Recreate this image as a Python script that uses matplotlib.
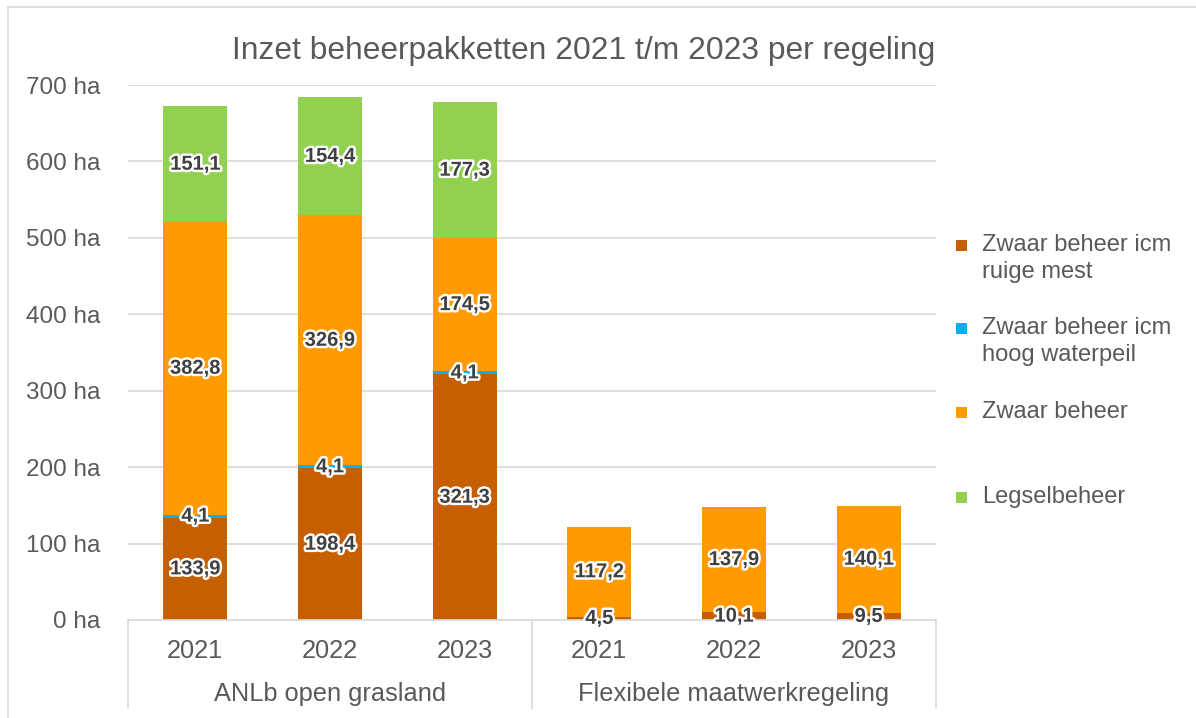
import matplotlib
matplotlib.use("Agg")
import matplotlib.pyplot as plt
import matplotlib.patheffects as pe
from matplotlib.patches import Rectangle
from matplotlib.lines import Line2D
import numpy as np

plt.rcParams['font.family'] = ['Liberation Sans', 'DejaVu Sans']

title = "Inzet beheerpakketten 2021 t/m 2023 per regeling"
groups = ["ANLb open grasland", "Flexibele maatwerkregeling"]
years = ["2021", "2022", "2023", "2021", "2022", "2023"]
series_names = ["Zwaar beheer icm\nruige mest", "Zwaar beheer icm\nhoog waterpeil",
                "Zwaar beheer", "Legselbeheer"]
ruige_mest = [133.9, 198.4, 321.3, 4.5, 10.1, 9.5]
hoog_waterpeil = [4.1, 4.1, 4.1, 0, 0, 0]
zwaar_beheer = [382.8, 326.9, 174.5, 117.2, 137.9, 140.1]
legselbeheer = [151.1, 154.4, 177.3, 0, 0, 0]
yticks = [0, 100, 200, 300, 400, 500, 600, 700]
colors = ["#C65F00", "#00B0F0", "#FF9A00", "#92D050"]

W, H = 1196, 718
fig = plt.figure(figsize=(W / 100, H / 100), dpi=100)
ax = fig.add_axes([128 / W, 1 - 620 / H, (936 - 128) / W, (620 - 85) / H])

txt = "#595959"
grid = "#D9D9D9"
data = [ruige_mest, hoog_waterpeil, zwaar_beheer, legselbeheer]
x = np.arange(len(years))
bottom = np.zeros(len(years))
for vals, col in zip(data, colors):
    vals = np.array(vals, dtype=float)
    ax.bar(x, vals, width=0.475, bottom=bottom, color=col, zorder=2)
    for xi, v, b in zip(x, vals, bottom):
        if v > 0:
            ax.text(xi, b + v / 2, f"{v:.1f}".replace(".", ","), ha="center", va="center",
                    fontsize=14.5, fontweight="bold", color="#404040", zorder=4,
                    path_effects=[pe.withStroke(linewidth=3.5, foreground="white")])
    bottom += vals

ax.set_xlim(-0.5, 5.5)
ax.set_ylim(0, 700)
ax.set_yticks(yticks)
ax.set_yticklabels([f"{t} ha" for t in yticks], fontsize=17.5, color=txt)
ax.set_xticks(x)
ax.set_xticklabels(years, fontsize=18.3, color=txt)
ax.tick_params(axis="both", length=0)
ax.tick_params(axis="y", pad=20)
ax.tick_params(axis="x", pad=14)
ax.grid(axis="y", color=grid, linewidth=1.2, zorder=0)
for s in ["left", "right", "top"]:
    ax.spines[s].set_visible(False)
ax.spines["bottom"].set_color(grid)
ax.spines["bottom"].set_linewidth(1.2)
ax.spines["bottom"].set_zorder(3)

trans = ax.get_xaxis_transform()
for sx in [-0.5, 2.5, 5.5]:
    ax.add_line(Line2D([sx, sx], [0, -88 / 535], transform=trans, color=grid,
                       linewidth=1.2, clip_on=False))
for gi, g in enumerate(groups):
    ax.text(gi * 3 + 1, -74 / 535, g, transform=trans, ha="center", va="center",
            fontsize=18.3, color=txt)

fig.text(584 / W, 1 - 51 / H, title, ha="center", va="center", fontsize=22.9, color=txt)

# legend
leg_y = [245, 328, 412, 497]
for name, col, yy in zip(series_names, colors, leg_y):
    fig.patches.append(Rectangle(((961 - 5.5) / W, 1 - (yy + 5.5) / H), 11 / W, 11 / H,
                                 transform=fig.transFigure, facecolor=col, edgecolor="none"))
    for li, line in enumerate(name.split("\n")):
        fig.text(982 / W, 1 - (yy + 6 + li * 27) / H, line, ha="left", va="baseline",
                 fontsize=17, color=txt)

# outer border
fig.add_artist(Line2D([8 / W, 1], [1 - 7 / H, 1 - 7 / H], transform=fig.transFigure, color=grid, linewidth=1.2))
fig.add_artist(Line2D([8 / W, 8 / W], [0, 1 - 7 / H], transform=fig.transFigure, color=grid, linewidth=1.2))

fig.savefig("out.png", dpi=100, facecolor="white")
